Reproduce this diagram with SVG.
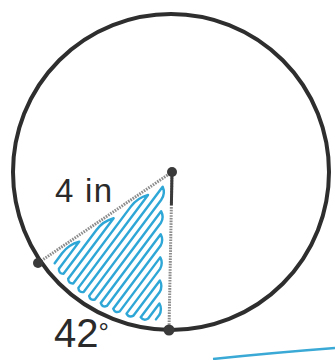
<svg xmlns="http://www.w3.org/2000/svg" width="335" height="360" viewBox="0 0 335 360">
<style>
.ring{fill:none;stroke:#2e2e2e;stroke-width:4}
.rad{fill:none;stroke:#8c8c8c;stroke-width:3;stroke-dasharray:1.6 1.1}
.dot{fill:#3a3a3a}
.scr{fill:none;stroke:#2ea7d7;stroke-width:2.7;stroke-linejoin:round;stroke-linecap:round}
.lbl{font-family:"Liberation Sans",Arial,sans-serif;fill:#2a2a2a}
</style>
<rect width="335" height="360" fill="#ffffff"/>
<g id="shade" transform="translate(122 258) scale(0.9) translate(-122 -258)">
<path id="scribble" class="scr" d="M47.2 263.9 L55.4 252.7 Q62.8 243 74.5 239.8 L51.9 269.9 Q51.5 275.4 57 275.6 L93.6 226.8 Q101 217 112.7 213.8 L62.2 281.1 Q62.3 286.6 67.8 286.3 L131.8 200.9 Q139.2 191.1 150.9 187.9 L73.5 291.2 Q74 296.7 79.4 295.8 L167.2 178.8 Q170.5 186 165.7 193.2 L85.5 300.1 Q86.6 305.5 91.9 304.1 L165.5 206 Q168.9 212.4 165.3 218.8 L98.4 307.9 Q100 313.2 105.2 311.3 L165 231.7 Q168.4 238.1 164.8 244.5 L112.3 314.5 Q114.4 319.6 119.5 317.3 L164.5 257.3 Q167.9 263.7 164.3 270.1 L127 319.8 Q129.8 324.8 134.8 322 L164.1 283 Q167.5 289.4 163.9 295.8 L142.8 323.8 Q146.3 328.4 151.1 325.2 L163.6 308.6 Q167 315 163.4 321.4 L159.7 326.2"/>
</g>
<g id="connectors">
<line class="rad" x1="172" y1="172" x2="38" y2="263"/>
<line class="rad" x1="172" y1="172" x2="169" y2="330"/>
<line x1="172" y1="172" x2="171.4" y2="205" stroke="#3a3a3a" stroke-width="3"/>
</g>
<g id="circle">
<circle class="ring" cx="171" cy="172" r="158"/>
</g>
<g id="center">
<circle class="dot" cx="172" cy="172" r="5"/>
</g>
<g id="point-left">
<circle class="dot" cx="38" cy="263" r="5"/>
</g>
<g id="point-bottom">
<circle class="dot" cx="169" cy="330" r="5.5"/>
</g>
<g id="label-radius">
<text class="lbl" x="55" y="202" font-size="33" textLength="57">4 in</text>
</g>
<g id="label-angle">
<text class="lbl" x="54" y="347" font-size="40">42<tspan font-size="26" dy="-6">°</tspan></text>
</g>
<g id="blue-stroke">
<path d="M213 359 Q270 353 335 348" fill="none" stroke="#3aa9d5" stroke-width="2.5"/>
</g>
</svg>
